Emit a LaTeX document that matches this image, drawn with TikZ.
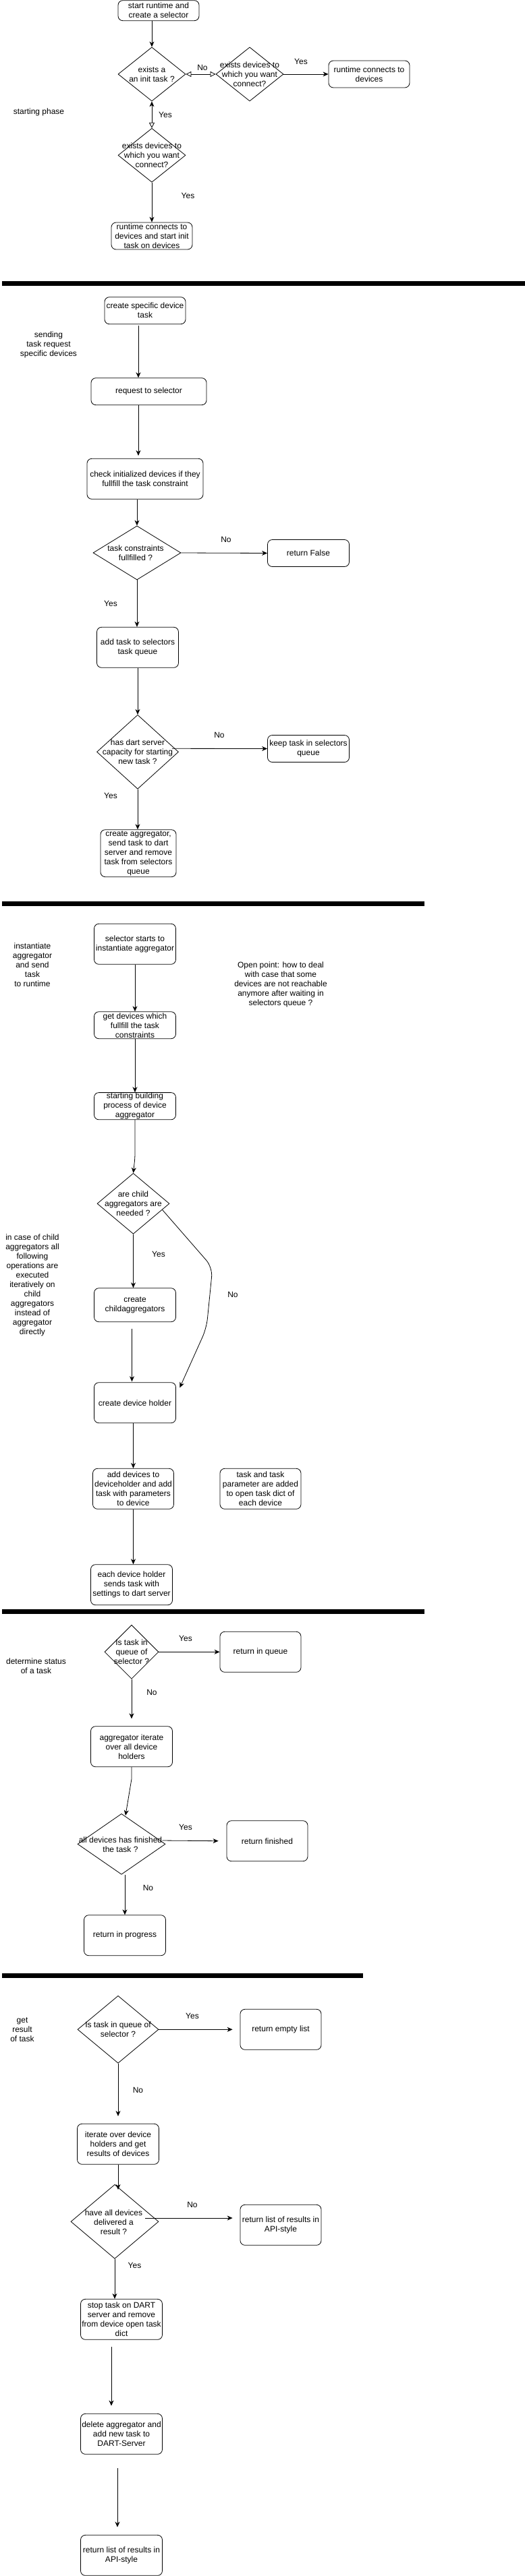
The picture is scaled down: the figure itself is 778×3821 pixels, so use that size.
\documentclass[tikz,border=0pt]{standalone}
\usepackage{fontspec}
\setmainfont{Liberation Sans}
\usetikzlibrary{shapes.geometric,arrows.meta,calc}
\begin{document}
\begin{tikzpicture}[x=1pt,y=-1pt,
  every node/.style={font=\fontsize{12pt}{14pt}\selectfont, align=center, inner sep=0.5pt},
  box/.style={draw, rounded corners=7pt, line width=0.8pt},
  dia/.style={draw, diamond, line width=0.8pt, inner sep=0pt},
  lbl/.style={inner sep=0pt},
  arr/.style={line width=0.8pt, -{Stealth[length=8pt,width=7pt,inset=2.5pt]}},
  oarr/.style={line width=0.8pt, {Triangle[open,length=8pt,width=8pt]}-{Triangle[open,length=8pt,width=8pt]}},
  moarr/.style={line width=0.8pt, {Stealth[length=8pt,width=7pt,inset=2.5pt]}-{Triangle[open,length=8pt,width=8pt]}},
  bar/.style={fill=black}]
\useasboundingbox (0,0) rectangle (778,3821);
\fill[white] (0,0) rectangle (778,3821);

% ---------- starting phase ----------
\node[box, minimum width=120pt, minimum height=30pt] (start) at (235,15.7) {start runtime and\\create a selector};
\node[dia, minimum width=100pt, minimum height=80pt] (d1) at (225,110) {};
\node[lbl] (d1t) at (d1) {exists a\\an init task ?};
\node[dia, minimum width=100pt, minimum height=80pt] (d2) at (370,110) {};
\node[lbl] (d2t) at (d2) {exists devices to\\which you want\\connect?};
\node[box, minimum width=120pt, minimum height=40pt] (rc) at (547,110) {runtime connects to\\devices};
\node[dia, minimum width=100pt, minimum height=80pt] (d3) at (225,230.3) {};
\node[lbl] (d3t) at (d3) {exists devices to\\which you want\\connect?};
\node[box, minimum width=120pt, minimum height=40pt] (rci) at (225,350) {runtime connects to\\devices and start init\\task on devices};
\node[lbl] (ph1) at (57.5,166) {starting phase};
\node[lbl] (l1) at (300,100) {No};
\node[lbl] (l2) at (446,91) {Yes};
\node[lbl] (l3) at (245,170) {Yes};
\node[lbl] (l4) at (278.5,290.7) {Yes};

\draw[arr] (start.south -| d1.north) -- (d1.north);
\draw[oarr] (d1.east) -- (d2.west);
\draw[arr] (d2.east) -- (rc.west);
\draw[moarr] (d1.south) -- (d3.north);
\draw[arr] (d3.south) -- (rci.north);

\fill[bar] (3,416.7) rectangle (778,424);

% ---------- sending task request ----------
\node[box, minimum width=120pt, minimum height=40pt] (cst) at (215,460.7) {create specific device\\task};
\node[box, minimum width=171pt, minimum height=40pt] (rts) at (220.5,580.7) {request to selector};
\node[box, minimum width=172pt, minimum height=60pt] (chk) at (215,710.3) {check initialized devices if they\\fullfill the task constraint};
\node[dia, minimum width=130pt, minimum height=80pt] (dtc) at (203,820) {};
\node[lbl] (dtct) at (201,820) {task constraints\\fullfilled ?};
\node[box, minimum width=121pt, minimum height=40pt] (rf) at (457,820.5) {return False};
\node[box, minimum width=121pt, minimum height=60pt] (atq) at (204,960.3) {add task to selectors\\task queue};
\node[dia, minimum width=121pt, minimum height=110pt] (dds) at (204,1115.3) {};
\node[lbl] (ddst) at (dds) {has dart server\\capacity for starting\\new task ?};
\node[box, minimum width=121pt, minimum height=40pt] (kts) at (457,1110.5) {keep task in selectors\\queue};
\node[box, minimum width=112pt, minimum height=70pt] (cag) at (205,1265.7) {create aggregator,\\send task to dart\\server and remove\\task from selectors\\queue};
\node[lbl] (ph2) at (72,511) {sending\\task request\\specific devices};
\node[lbl] (l5) at (335,800.7) {No};
\node[lbl] (l6) at (164,895.7) {Yes};
\node[lbl] (l7) at (325,1090.7) {No};
\node[lbl] (l8) at (164,1180.7) {Yes};

\draw[arr] ($(cst.south)+(-10,2)$) -- ($(rts.north)+(-15.5,0)$);
\draw[arr] ($(rts.south)+(-15.5,0)$) -- ($(chk.north)+(-10,-4)$);
\draw[arr] (chk.south -| dtc.north) -- (dtc.north);
\draw[arr] (dtc.east) -- (rf.west);
\draw[arr] (dtc.south) -- (dtc.south |- atq.north);
\draw[arr] (atq.south) -- (dds.north);
\draw[arr] ($(dds.east)+(-10,-5)$) -- (kts.west);
\draw[arr] (dds.south) -- (dds.south |- cag.north);

\fill[bar] (3,1337.3) rectangle (629,1344);

% ---------- instantiate aggregator ----------
\node[box, minimum width=121pt, minimum height=60pt] (ssa) at (200,1400.3) {selector starts to\\instantiate aggregator};
\node[box, minimum width=121pt, minimum height=40pt] (gd) at (200,1520.7) {get devices which\\fullfill the task\\constraints};
\node[box, minimum width=121pt, minimum height=40pt] (sbp) at (200,1640.7) {starting building\\process of device\\aggregator};
\node[dia, minimum width=107pt, minimum height=90pt] (dca) at (197.5,1785.3) {};
\node[lbl] (dcat) at (dca) {are child\\aggregators are\\needed ?};
\node[box, minimum width=121pt, minimum height=50pt] (cca) at (200,1935.7) {create\\childaggregators};
\node[box, minimum width=121pt, minimum height=60pt] (cdh) at (200,2080.7) {create device holder};
\node[box, minimum width=120pt, minimum height=60pt] (adv) at (197.5,2208.3) {add devices to\\deviceholder and add\\task with parameters\\to device};
\node[box, minimum width=120pt, minimum height=60pt] (ttp) at (386,2208.3) {task and task\\parameter are added\\to open task dict of\\each device};
\node[box, minimum width=121pt, minimum height=60pt] (eds) at (195,2350.7) {each device holder\\sends task with\\settings to dart server};
\node[lbl] (ph3) at (48,1430.7) {instantiate\\aggregator\\and send\\task\\to runtime};
\node[lbl] (op) at (416,1460.7) {Open point: how to deal\\with case that some\\devices are not reachable\\anymore after waiting in\\selectors queue ?};
\node[lbl] (icc) at (48,1906) {in case of child\\aggregators all\\following\\operations are\\executed\\iteratively on\\child\\aggregators\\instead of\\aggregator\\directly};
\node[lbl] (l9) at (235,1860.7) {Yes};
\node[lbl] (l10) at (345,1920.7) {No};

\draw[arr] (ssa.south) -- (gd.north);
\draw[arr] (gd.south) -- (sbp.north);
\draw[arr, rounded corners=6pt] (sbp.south) -- ++(0,56) -- (dca.north);
\draw[arr] (dca.south) -- (dca.south |- cca.north);
\draw[arr, rounded corners=14pt] (dca.-12) -- (315,1880) -- (306,1970) -- ($(cdh.north east)+(5.5,8)$);
\draw[arr] ($(cca.south)+(-4.5,10)$) -- ($(cdh.north)+(-4.5,-1)$);
\draw[arr] (cdh.south -| adv.north) -- (adv.north);
\draw[arr] (adv.south) -- (adv.south |- eds.north);

\fill[bar] (3,2387.3) rectangle (629,2394);

% ---------- determine status ----------
\node[dia, minimum width=80pt, minimum height=80pt] (dq1) at (195,2450.3) {};
\node[lbl] (dq1t) at (dq1) {Is task in\\queue of\\selector ?};
\node[box, minimum width=120pt, minimum height=60pt] (riq) at (386,2450.3) {return in queue};
\node[box, minimum width=121pt, minimum height=60pt] (agi) at (195,2590.7) {aggregator iterate\\over all device\\holders};
\node[dia, minimum width=130pt, minimum height=90pt] (dall) at (180,2735.3) {};
\node[lbl] (dallt) at (178.5,2736) {all devices has finished\\the task ?};
\node[box, minimum width=120pt, minimum height=60pt] (rfin) at (396,2730.7) {return finished};
\node[box, minimum width=121pt, minimum height=60pt] (rip) at (185,2870.7) {return in progress};
\node[lbl] (ph4) at (53.5,2470.7) {determine status\\of a task};
\node[lbl] (l11) at (275,2430.7) {Yes};
\node[lbl] (l12) at (225,2510.7) {No};
\node[lbl] (l13) at (275,2710.7) {Yes};
\node[lbl] (l14) at (219.5,2800.7) {No};

\draw[arr] (dq1.east) -- (riq.west);
\draw[arr] (dq1.south) -- ($(agi.north)+(0,-11)$);
\draw[arr] (agi.south) -- ++(0,17.6) -- ($(dall.north)+(6,3)$);
\draw[arr] ($(dall.east)+(-5,-5.3)$) -- ($(rfin.west)+(-12,0)$);
\draw[arr] (dall.south -| rip.north) -- (rip.north);

\fill[bar] (3,2927.3) rectangle (537.5,2934);

% ---------- get result ----------
\node[dia, minimum width=120pt, minimum height=100pt] (dq2) at (175,3010.3) {};
\node[lbl] (dq2t) at (dq2) {Is task in queue of\\selector ?};
\node[box, minimum width=120pt, minimum height=60pt] (rel) at (416,3010.3) {return empty list};
\node[box, minimum width=121pt, minimum height=60pt] (ito) at (175,3180.3) {iterate over device\\holders and get\\results of devices};
\node[dia, minimum width=130pt, minimum height=110pt] (dad) at (170,3295.3) {};
\node[lbl] (dadt) at (168.5,3295.7) {have all devices\\delivered a\\result ?};
\node[box, minimum width=120pt, minimum height=60pt] (rlr) at (416,3300.3) {return list of results in\\API-style};
\node[box, minimum width=121pt, minimum height=60pt] (stp) at (180,3440.3) {stop task on DART\\server and remove\\from device open task\\dict};
\node[box, minimum width=121pt, minimum height=60pt] (del) at (180,3610.3) {delete aggregator and\\add new task to\\DART-Server};
\node[box, minimum width=121pt, minimum height=60pt] (rl2) at (180,3790.3) {return list of results in\\API-style};
\node[lbl] (ph5) at (33,3010.7) {get\\result\\of task};
\node[lbl] (l15) at (285,2990.7) {Yes};
\node[lbl] (l16) at (204.5,3100.7) {No};
\node[lbl] (l17) at (285,3270.7) {No};
\node[lbl] (l18) at (199.5,3360.7) {Yes};

\draw[arr] (dq2.east) -- ($(rel.west)+(-11,0)$);
\draw[arr] (dq2.south) -- ($(ito.north)+(0,-11)$);
\draw[arr] (ito.south) -- ($(dad.north)+(5,8)$);
\draw[arr] ($(dad.east)+(-20,-5.3)$) -- ($(rlr.west)+(-11,-10.3)$);
\draw[arr] (dad.south) -- (dad.south |- stp.north);
\draw[arr] ($(stp.south)+(-15,10.7)$) -- ($(del.north)+(-15,-11.4)$);
\draw[arr] ($(del.south)+(-6,20.7)$) -- ($(rl2.north)+(-6,-11.4)$);
\end{tikzpicture}
\end{document}
